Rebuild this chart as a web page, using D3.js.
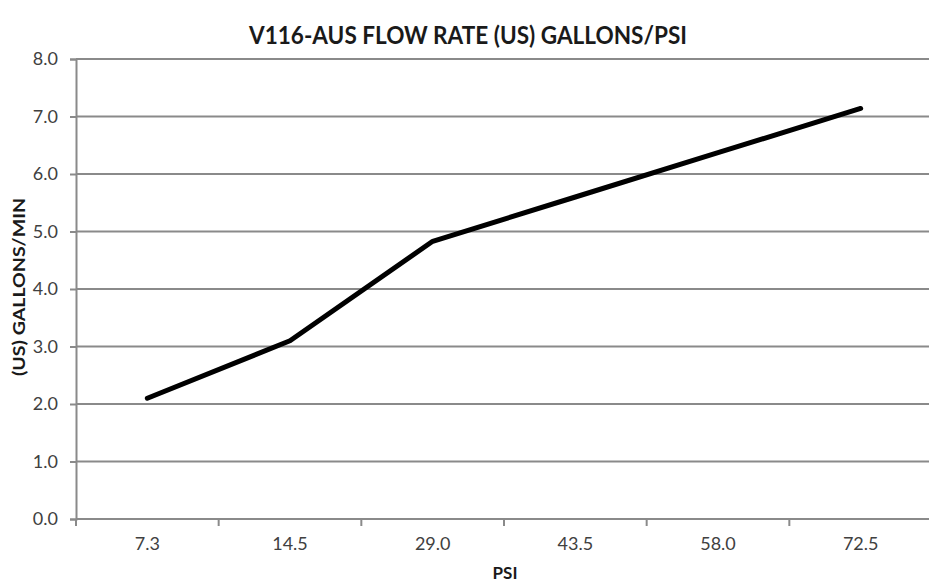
<!DOCTYPE html>
<html>
<head>
<meta charset="utf-8">
<script src="https://cdn.jsdelivr.net/npm/d3@7"></script>
<style>
  body { margin: 0; background: #fff; }
  text { font-family: Lato, "Open Sans", sans-serif; }
</style>
</head>
<body>
<script>
// chart data
var psi = ["7.3", "14.5", "29.0", "43.5", "58.0", "72.5"];
var gallons = [2.1, 3.1, 4.83, 5.6, 6.37, 7.14];
var yTicks = [0, 1, 2, 3, 4, 5, 6, 7, 8];

var width = 929;
var height = 584;
// plot box (note: "top" is taken by window.top, so use other names)
var plotLeft = 76, plotRight = 932, plotTop = 59, plotBottom = 519;

var svg = d3.select("body")
    .append("svg")
    .attr("width", width)
    .attr("height", height);

var x = d3.scaleBand()
    .domain(psi)
    .range([plotLeft, plotRight]);

var y = d3.scaleLinear()
    .domain([0, 8])
    .range([plotBottom, plotTop]);

// horizontal gridlines
svg.append("g")
    .selectAll("line")
    .data(yTicks)
    .enter()
    .append("line")
    .attr("x1", plotLeft)
    .attr("x2", plotRight)
    .attr("y1", function(d) { return y(d); })
    .attr("y2", function(d) { return y(d); })
    .attr("stroke", "#8a8a8a")
    .attr("stroke-width", 2);

// y axis
var yAxis = svg.append("g")
    .attr("transform", "translate(" + plotLeft + ",0)")
    .call(d3.axisLeft(y).tickValues(yTicks).tickSize(6).tickPadding(12)
        .tickFormat(d3.format(".1f")));
yAxis.select(".domain").attr("stroke", "#8a8a8a").attr("stroke-width", 2);
yAxis.selectAll(".tick line").attr("stroke", "#8a8a8a").attr("stroke-width", 2);
yAxis.selectAll(".tick text")
    .attr("font-family", "Lato, sans-serif")
    .attr("font-size", 18)
    .attr("fill", "#404040");

// x axis, ticks sit between the categories
var xAxis = svg.append("g")
    .attr("transform", "translate(0," + plotBottom + ")");
xAxis.append("line")
    .attr("x1", plotLeft)
    .attr("x2", plotRight)
    .attr("stroke", "#8a8a8a")
    .attr("stroke-width", 2);
xAxis.selectAll(".sep")
    .data(psi)
    .enter()
    .append("line")
    .attr("class", "sep")
    .attr("x1", function(d) { return x(d); })
    .attr("x2", function(d) { return x(d); })
    .attr("y1", 0)
    .attr("y2", 7)
    .attr("stroke", "#8a8a8a")
    .attr("stroke-width", 2);
xAxis.selectAll(".lab")
    .data(psi)
    .enter()
    .append("text")
    .attr("class", "lab")
    .attr("x", function(d) { return x(d) + x.bandwidth() / 2; })
    .attr("y", 31)
    .attr("text-anchor", "middle")
    .attr("font-size", 18)
    .attr("fill", "#404040")
    .text(function(d) { return d; });

// the line
var line = d3.line()
    .x(function(d, i) { return x(psi[i]) + x.bandwidth() / 2; })
    .y(function(d) { return y(d); });

svg.append("path")
    .datum(gallons)
    .attr("d", line)
    .attr("fill", "none")
    .attr("stroke", "#000")
    .attr("stroke-width", 5)
    .attr("stroke-linejoin", "round")
    .attr("stroke-linecap", "round");

// titles
svg.append("text")
    .attr("x", 468)
    .attr("y", 44)
    .attr("text-anchor", "middle")
    .attr("font-size", 25)
    .attr("font-weight", "bold")
    .attr("fill", "#1a1a1a")
    .attr("textLength", 438)
    .attr("lengthAdjust", "spacingAndGlyphs")
    .text("V116-AUS FLOW RATE (US) GALLONS/PSI");

svg.append("text")
    .attr("transform", "translate(25,287) rotate(-90)")
    .attr("text-anchor", "middle")
    .attr("font-size", 17)
    .attr("font-weight", "bold")
    .attr("fill", "#1a1a1a")
    .attr("textLength", 178)
    .attr("lengthAdjust", "spacingAndGlyphs")
    .text("(US) GALLONS/MIN");

svg.append("text")
    .attr("x", 505)
    .attr("y", 579)
    .attr("text-anchor", "middle")
    .attr("font-size", 17)
    .attr("font-weight", "bold")
    .attr("fill", "#1a1a1a")
    .text("PSI");
</script>
</body>
</html>
